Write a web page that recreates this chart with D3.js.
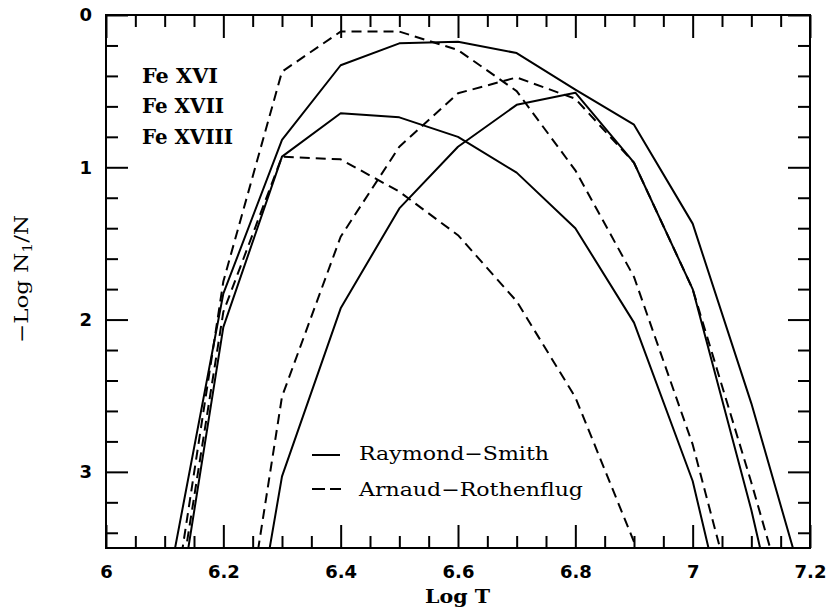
<!DOCTYPE html>
<html>
<head>
<meta charset="utf-8">
<script src="https://cdn.jsdelivr.net/npm/d3@7"></script>
<style>
  html, body { margin: 0; padding: 0; background: #fff; }
  svg { display: block; }
</style>
</head>
<body>
<svg id="chart" width="827" height="609"></svg>
<script>
// ---- Data ----
const logT = [6.1, 6.2, 6.3, 6.4, 6.5, 6.6, 6.7, 6.8, 6.9, 7.0, 7.1, 7.2];

// Raymond-Smith (solid)
const rsFeXVI   = [4.48, 2.05, 0.93, 0.645, 0.672, 0.80, 1.035, 1.40, 2.02, 3.06, 4.69, null];
const rsFeXVII  = [3.86, 1.83, 0.82, 0.33, 0.186, 0.175, 0.25, 0.49, 0.72, 1.37, 2.55, 3.89];
const rsFeXVIII = [null, 5.27, 3.03, 1.926, 1.27, 0.865, 0.59, 0.51, 0.97, 1.80, 3.25, 4.92];

// Arnaud-Rothenflug (dashed)
const arFeXVI   = [4.39, 1.95, 0.93, 0.948, 1.16, 1.446, 1.88, 2.51, 3.46, 4.6, null, null];
const arFeXVII  = [4.27, 1.75, 0.372, 0.109, 0.109, 0.23, 0.50, 1.02, 1.72, 2.82, 4.28, null];
const arFeXVIII = [null, 4.97, 2.506, 1.456, 0.865, 0.514, 0.41, 0.55, 0.97, 1.80, 3.07, 4.41];

const ionLabels = ["Fe XVI", "Fe XVII", "Fe XVIII"];
const legendLabels = ["Raymond\u2212Smith", "Arnaud\u2212Rothenflug"];

const xMajorTicks = [6, 6.2, 6.4, 6.6, 6.8, 7, 7.2];
const xTickLabels = ["6", "6.2", "6.4", "6.6", "6.8", "7", "7.2"];
const yMajorTicks = [0, 1, 2, 3];
const yTickLabels = ["0", "1", "2", "3"];

// ---- Layout ----
const W = 827, H = 609;
const margin = {left: 106, top: 15, right: 17, bottom: 61};
const iw = W - margin.left - margin.right;
const ih = H - margin.top - margin.bottom;

const svg = d3.select("#chart");
const g = svg.append("g").attr("transform", `translate(${margin.left},${margin.top})`);

const x = d3.scaleLinear().domain([6, 7.2]).range([0, iw]);
const y = d3.scaleLinear().domain([0, 3.5]).range([0, ih]);

const xMinor = d3.range(6, 7.2001, 0.05).map(v => +v.toFixed(2)).filter(v => !xMajorTicks.some(m => Math.abs(m - v) < 1e-6));
const yMinor = d3.range(0, 3.5001, 0.2).map(v => +v.toFixed(2)).filter(v => !yMajorTicks.some(m => Math.abs(m - v) < 1e-6) && v < 3.5);

const tickFont = "DejaVu Sans, sans-serif";

function styleAxis(sel) {
  sel.select(".domain").remove();
  sel.selectAll("line").attr("stroke", "#000").attr("stroke-width", 2);
  sel.selectAll("text").attr("font-family", tickFont).attr("font-weight", "bold")
     .attr("font-size", 18).attr("fill", "#000");
}

// bottom axis
g.append("g").attr("transform", `translate(0,${ih})`)
  .call(d3.axisBottom(x).tickValues(xMinor).tickSize(-12).tickFormat(""))
  .call(styleAxis);
g.append("g").attr("transform", `translate(0,${ih})`)
  .call(d3.axisBottom(x).tickValues(xMajorTicks).tickSize(-23).tickPadding(17)
        .tickFormat((d, i) => xTickLabels[i]))
  .call(styleAxis);
// top axis
g.append("g")
  .call(d3.axisTop(x).tickValues(xMinor).tickSize(-12).tickFormat(""))
  .call(styleAxis);
g.append("g")
  .call(d3.axisTop(x).tickValues(xMajorTicks).tickSize(-23).tickFormat(""))
  .call(styleAxis);
// left axis
g.append("g")
  .call(d3.axisLeft(y).tickValues(yMinor).tickSize(-12).tickFormat(""))
  .call(styleAxis);
g.append("g")
  .call(d3.axisLeft(y).tickValues(yMajorTicks).tickSize(-22).tickPadding(14)
        .tickFormat((d, i) => yTickLabels[i]))
  .call(styleAxis);
// right axis
g.append("g").attr("transform", `translate(${iw},0)`)
  .call(d3.axisRight(y).tickValues(yMinor).tickSize(-12).tickFormat(""))
  .call(styleAxis);
g.append("g").attr("transform", `translate(${iw},0)`)
  .call(d3.axisRight(y).tickValues(yMajorTicks).tickSize(-22).tickFormat(""))
  .call(styleAxis);

// frame
g.append("rect").attr("x", 0).attr("y", 0).attr("width", iw).attr("height", ih)
  .attr("fill", "none").attr("stroke", "#000").attr("stroke-width", 2);

// clip
svg.append("defs").append("clipPath").attr("id", "plotclip")
  .append("rect").attr("x", 0).attr("y", 0).attr("width", iw).attr("height", ih);

const series = [
  {values: rsFeXVI, dash: null},
  {values: rsFeXVII, dash: null},
  {values: rsFeXVIII, dash: null},
  {values: arFeXVI, dash: "10,6"},
  {values: arFeXVII, dash: "10,6"},
  {values: arFeXVIII, dash: "10,6"}
];

const line = d3.line()
  .defined(d => d[1] !== null)
  .x(d => x(d[0]))
  .y(d => y(d[1]));

const plot = g.append("g").attr("clip-path", "url(#plotclip)");
series.forEach(s => {
  const pts = logT.map((t, i) => [t, s.values[i]]);
  plot.append("path")
    .attr("d", line(pts))
    .attr("fill", "none")
    .attr("stroke", "#000")
    .attr("stroke-width", 2)
    .attr("stroke-linejoin", "round")
    .attr("stroke-dasharray", s.dash);
});

// ion labels
const serif = "DejaVu Serif, serif";
const ionBaselines = [83, 113, 144];
const ionWidths = [76, 82, 91];
ionLabels.forEach((t, i) => {
  svg.append("text")
    .attr("x", 142).attr("y", ionBaselines[i])
    .attr("font-family", serif).attr("font-weight", "bold").attr("font-size", 20)
    .attr("textLength", ionWidths[i]).attr("lengthAdjust", "spacingAndGlyphs")
    .text(t);
});

// legend
const legY = [455, 489];
svg.append("line").attr("x1", 312).attr("x2", 340).attr("y1", legY[0]).attr("y2", legY[0])
  .attr("stroke", "#000").attr("stroke-width", 2);
svg.append("line").attr("x1", 312).attr("x2", 341).attr("y1", legY[1]).attr("y2", legY[1])
  .attr("stroke", "#000").attr("stroke-width", 2).attr("stroke-dasharray", "13,5");
const legBaselines = [460, 496];
const legWidths = [190, 224];
legendLabels.forEach((t, i) => {
  svg.append("text")
    .attr("x", 359).attr("y", legBaselines[i])
    .attr("font-family", serif).attr("font-size", 19)
    .attr("textLength", legWidths[i]).attr("lengthAdjust", "spacingAndGlyphs")
    .text(t);
});

// axis titles
svg.append("text")
  .attr("x", 425).attr("y", 603)
  .attr("font-family", serif).attr("font-weight", "bold").attr("font-size", 19)
  .attr("textLength", 65).attr("lengthAdjust", "spacingAndGlyphs")
  .text("Log T");

const yt = svg.append("text")
  .attr("transform", "translate(28,343) rotate(-90)")
  .attr("font-family", serif).attr("font-size", 19)
  .attr("textLength", 128).attr("lengthAdjust", "spacingAndGlyphs");
yt.append("tspan").text("\u2212Log N");
yt.append("tspan").attr("font-size", 13).attr("dy", 4).text("1");
yt.append("tspan").attr("dy", -4).text("/N");
</script>
</body>
</html>
